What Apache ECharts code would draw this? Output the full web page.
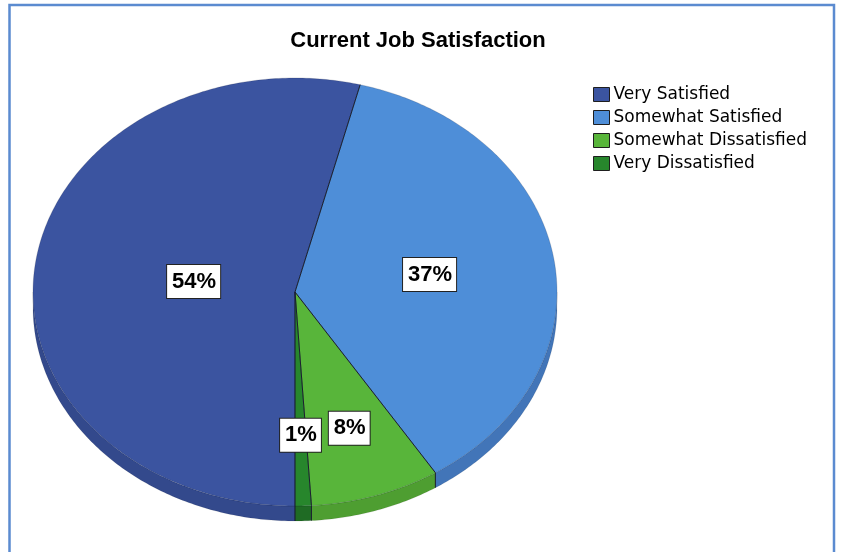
<!DOCTYPE html>
<html>
<head>
<meta charset="utf-8">
<script src="https://cdn.jsdelivr.net/npm/echarts@6/dist/echarts.min.js"></script>
<style>
  html, body { margin: 0; padding: 0; background: #ffffff; }
  #chart { width: 841px; height: 552px; }
</style>
</head>
<body>
<div id="chart"></div>
<script>
// Survey answers and their share of respondents (percent)
const categories = ['Very Satisfied', 'Somewhat Satisfied', 'Somewhat Dissatisfied', 'Very Dissatisfied'];
const percentages = [54, 37, 8, 1];

// Slice colours: top face and the darker rim
const topColors = ['#3b54a0', '#4e8ed8', '#58b53a', '#27862c'];
const sideColors = ['#33498c', '#4275b8', '#4e9e31', '#1f6b24'];

// Tilted pie geometry (pixels) and label placement as a fraction of the radius
const PIE = { cx: 295, cy: 292, rx: 262, ry: 214, depth: 15, startDeg: 180 };
const labelRadius = [0.39, 0.52, 0.67, 0.67];

const total = percentages.reduce((a, b) => a + b, 0);
const cumulative = percentages.map((_, i) => percentages.slice(0, i).reduce((a, b) => a + b, 0));

function pt(deg, dy) {
  const r = deg * Math.PI / 180;
  return [PIE.cx + PIE.rx * Math.sin(r), PIE.cy - PIE.ry * Math.cos(r) + (dy || 0)];
}

function arc(a0, a1, dy) {
  const pts = [];
  const n = Math.max(2, Math.ceil(Math.abs(a1 - a0) / 0.75));
  for (let k = 0; k <= n; k++) pts.push(pt(a0 + (a1 - a0) * k / n, dy));
  return pts;
}

// angle normalised to 0..360
function norm(deg) { return ((deg % 360) + 360) % 360; }

function makeRender(i) {
  return function (params, api) {
    const v = api.value(0);
    const a0 = PIE.startDeg + 360 * cumulative[i] / total;
    const a1 = a0 + 360 * v / total;
    const children = [];

    // rim: front half of the ellipse (90..270 deg, repeated one turn later)
    [[90, 270], [450, 630]].forEach(function (rng) {
      const s = Math.max(a0, rng[0]);
      const e = Math.min(a1, rng[1]);
      if (e > s) {
        const topEdge = arc(s, e, 0);
        const bottomEdge = arc(e, s, PIE.depth);
        children.push({
          type: 'polygon', z2: 1,
          shape: { points: topEdge.concat(bottomEdge) },
          style: { fill: sideColors[i], stroke: 'rgba(0,0,0,0.15)', lineWidth: 0.6 }
        });
      }
    });

    // seam on the rim where the slice starts, if that edge faces the viewer
    const startNorm = norm(a0);
    if (startNorm >= 90 && startNorm <= 270) {
      const p = pt(a0, 0);
      children.push({
        type: 'line', z2: 2,
        shape: { x1: p[0], y1: p[1], x2: p[0], y2: p[1] + PIE.depth },
        style: { stroke: '#1a1f2e', lineWidth: 1 }
      });
    }

    // top face
    children.push({
      type: 'polygon', z2: 5,
      shape: { points: [[PIE.cx, PIE.cy]].concat(arc(a0, a1, 0)) },
      style: { fill: topColors[i], stroke: 'rgba(20,25,45,0.25)', lineWidth: 0.7 }
    });

    // dividing line at the slice start
    const ps = pt(a0, 0);
    children.push({
      type: 'line', z2: 6,
      shape: { x1: PIE.cx, y1: PIE.cy, x2: ps[0], y2: ps[1] },
      style: { stroke: '#1a1f2e', lineWidth: 1 }
    });

    // percentage label in a white box
    const mid = (a0 + a1) / 2;
    const r = mid * Math.PI / 180;
    const lx = PIE.cx + labelRadius[i] * PIE.rx * Math.sin(r);
    const ly = PIE.cy - labelRadius[i] * PIE.ry * Math.cos(r);
    children.push({
      type: 'text', z2: 20,
      x: lx, y: ly,
      style: {
        text: Math.round(v) + '%',
        x: 0, y: 0,
        align: 'center', verticalAlign: 'middle',
        fill: '#000000',
        font: 'bold 22px "Liberation Sans", Arial, sans-serif',
        backgroundColor: '#ffffff',
        borderColor: '#222222', borderWidth: 1,
        padding: [6, 4, 5, 5]
      }
    });

    return { type: 'group', children: children };
  };
}

const series = categories.map(function (name, i) {
  return {
    type: 'custom',
    name: name,
    coordinateSystem: 'none',
    itemStyle: { color: topColors[i] },
    data: [[percentages[i]]],
    renderItem: makeRender(i)
  };
});

const chart = echarts.init(document.getElementById('chart'), null, { renderer: 'canvas' });
chart.setOption({
  animation: false,
  backgroundColor: '#ffffff',
  title: {
    text: 'Current Job Satisfaction',
    left: 413, top: 25, textAlign: 'center',
    textStyle: { fontFamily: '"Liberation Sans", Arial, sans-serif', fontWeight: 'bold', fontSize: 22, color: '#000000' }
  },
  legend: {
    orient: 'vertical',
    left: 588, top: 81,
    icon: 'rect',
    itemWidth: 16, itemHeight: 14, itemGap: 6,
    selectedMode: false,
    itemStyle: { borderColor: '#1e1e1e', borderWidth: 1 },
    textStyle: { fontFamily: '"DejaVu Sans", sans-serif', fontSize: 17, color: '#000000', padding: [0, 0, 0, -1] },
    data: categories
  },
  graphic: [{
    type: 'rect', z: -1,
    shape: { x: 9.5, y: 5, width: 824.5, height: 570 },
    style: { fill: 'none', stroke: '#5b8bd0', lineWidth: 2.5 },
    silent: true
  }],
  series: series
});
</script>
</body>
</html>
